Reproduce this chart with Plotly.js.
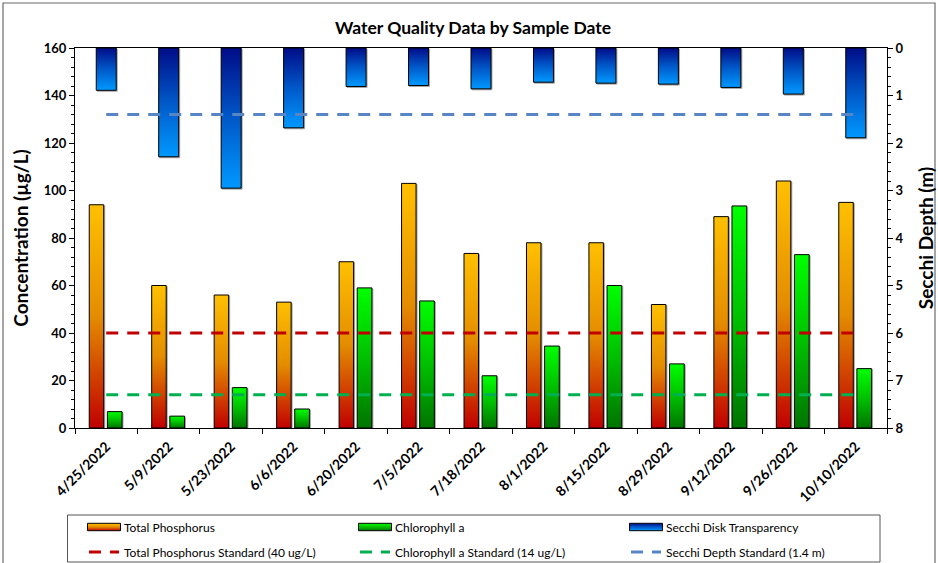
<!DOCTYPE html>
<html>
<head>
<meta charset="utf-8">
<script src="https://cdn.plot.ly/plotly-3.0.1.min.js"></script>
<style>
  html, body { margin: 0; padding: 0; background: #fff; }
  #plot { width: 938px; height: 563px; }
</style>
</head>
<body>
<svg width="0" height="0" style="position:absolute">
  <defs>
    <linearGradient id="gradTP" x1="0" y1="0" x2="0" y2="1">
      <stop offset="0" stop-color="#FFC000"/>
      <stop offset="0.5" stop-color="#E48C00"/>
      <stop offset="1" stop-color="#C00000"/>
    </linearGradient>
    <linearGradient id="gradChl" x1="0" y1="0" x2="0" y2="1">
      <stop offset="0" stop-color="#00FF00"/>
      <stop offset="0.5" stop-color="#00C000"/>
      <stop offset="1" stop-color="#007400"/>
    </linearGradient>
    <linearGradient id="gradSec" x1="0" y1="0" x2="0" y2="1">
      <stop offset="0" stop-color="#000C88"/>
      <stop offset="0.5" stop-color="#0058C8"/>
      <stop offset="1" stop-color="#0099FF"/>
    </linearGradient>
  </defs>
</svg>
<div id="plot"></div>
<script>
// ---- data ----
const sampleDates = ['4/25/2022','5/9/2022','5/23/2022','6/6/2022','6/20/2022','7/5/2022','7/18/2022','8/1/2022','8/15/2022','8/29/2022','9/12/2022','9/26/2022','10/10/2022'];
const totalPhosphorus = [94, 60, 56, 53, 70, 103, 73.5, 78, 78, 52, 89, 104, 95];
const chlorophyllA = [6.9, 5, 17, 8, 59, 53.5, 22, 34.5, 60, 27, 93.5, 73, 25];
const secchiDepth = [0.89, 2.29, 2.95, 1.68, 0.81, 0.79, 0.86, 0.72, 0.74, 0.76, 0.83, 0.97, 1.89];
const tpStandard = 40;
const chlStandard = 14;
const secchiStandard = 1.4;

const FONT = 'Lato, "Open Sans", sans-serif';
const standardX = [sampleDates[0], sampleDates[sampleDates.length - 1]];

const TP_KEY = 'rgb(230, 140, 1)';
const CHL_KEY = 'rgb(1, 190, 1)';
const SEC_KEY = 'rgb(1, 80, 200)';

const traces = [
  {
    type: 'bar', name: 'Total Phosphorus', x: sampleDates, y: totalPhosphorus,
    yaxis: 'y', offset: -0.272, width: 0.232,
    marker: { color: TP_KEY, line: { color: '#000', width: 1 } },
    legend: 'legend', hoverinfo: 'x+y'
  },
  {
    type: 'bar', name: 'Chlorophyll a', x: sampleDates, y: chlorophyllA,
    yaxis: 'y', offset: 0.018, width: 0.235,
    marker: { color: CHL_KEY, line: { color: '#000', width: 1 } },
    legend: 'legend2', hoverinfo: 'x+y'
  },
  {
    type: 'bar', name: 'Secchi Disk Transparency', x: sampleDates, y: secchiDepth,
    yaxis: 'y2', offset: -0.16, width: 0.32,
    marker: { color: SEC_KEY, line: { color: '#000', width: 1 } },
    legend: 'legend3', hoverinfo: 'x+y'
  },
  {
    type: 'scatter', mode: 'lines', name: 'Total Phosphorus Standard (40 ug/L)',
    x: standardX, y: [tpStandard, tpStandard], yaxis: 'y',
    line: { color: '#C00000', width: 3.2, dash: '12px,9px' }, legend: 'legend4'
  },
  {
    type: 'scatter', mode: 'lines', name: 'Chlorophyll a Standard (14 ug/L)',
    x: standardX, y: [chlStandard, chlStandard], yaxis: 'y',
    line: { color: '#00B050', width: 3.2, dash: '12px,9px' }, legend: 'legend5'
  },
  {
    type: 'scatter', mode: 'lines', name: 'Secchi Depth Standard (1.4 m)',
    x: standardX, y: [secchiStandard, secchiStandard], yaxis: 'y2',
    line: { color: '#5886C4', width: 3.2, dash: '12px,9px' }, legend: 'legend6'
  }
];

const W = 938, H = 563;
const ML = 75, MR = 51, MT = 48, MB = 135;
const PW = W - ML - MR, PH = H - MT - MB;
const px2paperX = (px) => (px - ML) / PW;
const px2paperY = (py) => (H - MB - py) / PH;

function legendAt(px, py) {
  return {
    orientation: 'h', xref: 'container', yref: 'container',
    x: px / W, y: 1 - py / H,
    xanchor: 'left', yanchor: 'middle',
    font: { family: FONT, size: 12, color: '#000' },
    bgcolor: 'rgba(0,0,0,0)', borderwidth: 0, itemwidth: 30
  };
}

const colX = [84, 355, 626];
const rowY = [527, 552];

const layout = {
  width: W, height: H,
  margin: { l: ML, r: MR, t: MT, b: MB, pad: 0 },
  paper_bgcolor: '#fff', plot_bgcolor: '#fff',
  font: { family: FONT, color: '#000' },
  barmode: 'overlay',
  title: {
    text: '<b>Water Quality Data by Sample Date</b>',
    font: { family: FONT, size: 17.5, color: '#000' },
    xref: 'container', x: 473 / W, xanchor: 'center',
    yref: 'container', y: 1 - 28 / H, yanchor: 'middle'
  },
  xaxis: {
    type: 'category', categoryorder: 'array', categoryarray: sampleDates,
    range: [-0.5, sampleDates.length - 0.5],
    tickangle: -45, tickfont: { family: FONT, size: 14, color: '#000', weight: 'bold' },
    ticklabelstandoff: 4,
    showline: true, linecolor: '#000', linewidth: 1, mirror: true,
    ticks: 'outside', tickson: 'boundaries', ticklen: 5, tickcolor: '#000',
    showgrid: false, zeroline: false, fixedrange: true
  },
  yaxis: {
    range: [0, 160], dtick: 20, tick0: 0,
    tickfont: { family: FONT, size: 13, color: '#000', weight: 'bold' },
    showline: true, linecolor: '#000', linewidth: 1,
    ticks: 'outside', ticklen: 5, tickcolor: '#000',
    minor: { dtick: 4, ticks: 'outside', ticklen: 3, tickcolor: '#000', showgrid: false },
    showgrid: false, zeroline: false,
    title: { text: '<b>Concentration (µg/L)</b>', font: { family: FONT, size: 19, color: '#000' }, standoff: 10 }
  },
  yaxis2: {
    overlaying: 'y', side: 'right', anchor: 'x',
    range: [8, 0], dtick: 1, tick0: 0,
    tickfont: { family: FONT, size: 13, color: '#000', weight: 'bold' },
    showline: true, linecolor: '#000', linewidth: 1,
    ticks: 'outside', ticklen: 5, tickcolor: '#000',
    minor: { dtick: 0.2, ticks: 'outside', ticklen: 3, tickcolor: '#000', showgrid: false },
    showgrid: false, zeroline: false,
    title: { text: '<b>Secchi Depth (m)</b>', font: { family: FONT, size: 19, color: '#000' }, standoff: 17 }
  },
  legend: legendAt(colX[0], rowY[0]),
  legend2: legendAt(colX[1], rowY[0]),
  legend3: legendAt(colX[2], rowY[0]),
  legend4: legendAt(colX[0], rowY[1]),
  legend5: legendAt(colX[1], rowY[1]),
  legend6: legendAt(colX[2], rowY[1]),
  shapes: [
    { type: 'rect', xref: 'paper', yref: 'paper', layer: 'below',
      x0: px2paperX(67.5), x1: px2paperX(880), y0: px2paperY(515), y1: px2paperY(562),
      line: { color: '#555', width: 1 }, fillcolor: 'rgba(0,0,0,0)' },
    { type: 'rect', xref: 'paper', yref: 'paper', layer: 'below',
      x0: px2paperX(3), x1: px2paperX(935), y0: px2paperY(3), y1: px2paperY(570),
      line: { color: '#6b6b6b', width: 1.2 }, fillcolor: 'rgba(0,0,0,0)' }
  ],
  showlegend: true
};

const gradMap = {};
gradMap[TP_KEY] = 'url(#gradTP)';
gradMap[CHL_KEY] = 'url(#gradChl)';
gradMap[SEC_KEY] = 'url(#gradSec)';

function applyGradients(gd) {
  gd.querySelectorAll('g.barlayer path').forEach(function (p) {
    const f = p.style.fill;
    if (gradMap[f]) {
      p.style.fill = gradMap[f];
      p.style.fillOpacity = 1;
      p.style.filter = 'drop-shadow(1.5px 1px 0.6px rgba(0,0,0,0.35))';
    }
  });
  gd.querySelectorAll('g.legendpoints path').forEach(function (p) {
    const f = p.style.fill;
    if (gradMap[f]) {
      const bb = p.getBBox();
      const cx = bb.x + bb.width / 2, cy = bb.y + bb.height / 2;
      const hw = 16.5, hh = 3.7;
      p.setAttribute('d', 'M' + (cx + hw) + ',' + (cy + hh) + 'H' + (cx - hw) + 'V' + (cy - hh) + 'H' + (cx + hw) + 'Z');
      p.style.fill = gradMap[f];
      p.style.fillOpacity = 1;
      p.style.stroke = '#000';
      p.style.strokeWidth = '1px';
    }
  });
}

Plotly.newPlot('plot', traces, layout, { displayModeBar: false, staticPlot: true }).then(function (gd) {
  applyGradients(gd);
});
</script>
</body>
</html>
